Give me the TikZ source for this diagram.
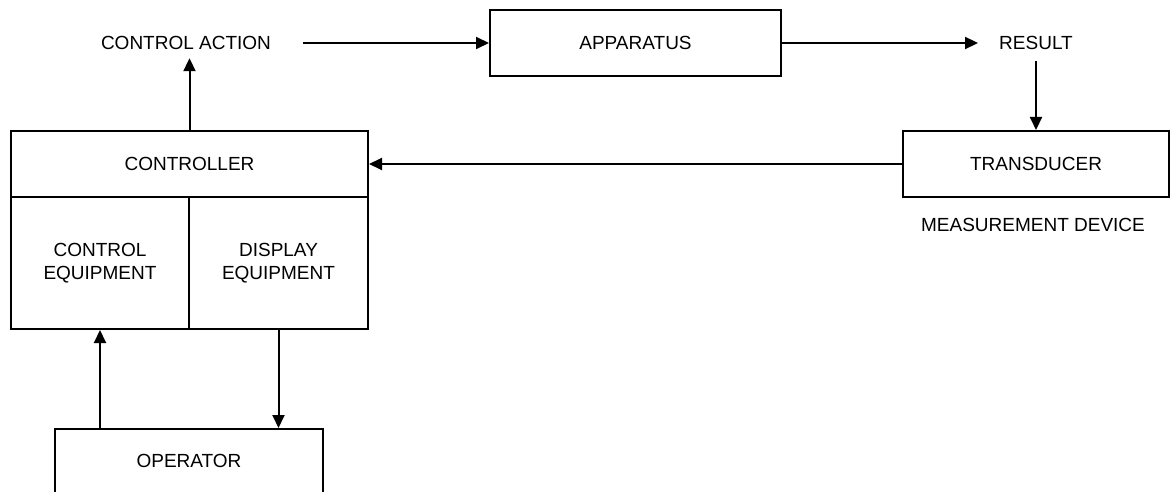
\documentclass[tikz,border=0pt]{standalone}
\usepackage{fontspec}
\setmainfont{Liberation Sans}
\usetikzlibrary{arrows.meta}
\begin{document}
\begin{tikzpicture}[x=1pt,y=-1pt,
  every node/.style={font=\fontsize{19}{23}\selectfont},
  box/.style={draw,line width=2pt,rectangle,inner sep=0pt,align=center},
  lbl/.style={inner sep=0pt,text height=14pt,text depth=0pt,align=center},
  arr/.style={line width=2pt,-{Triangle[length=13pt,width=12pt]}}]
\clip (0,0) rectangle (1170,492);
\fill[white] (0,0) rectangle (1170,492);
% nodes
\node[lbl] (ca) at (186,43) {CONTROL ACTION};
\node[box,minimum width=291pt,minimum height=66pt] (app) at (635.5,43) {APPARATUS};
\node[lbl] (res) at (1036,43) {RESULT};
\node[box,minimum width=266pt,minimum height=66pt] (trans) at (1036,164) {TRANSDUCER};
\node[lbl] (meas) at (1033,224) {MEASUREMENT DEVICE};
\node[box,minimum width=357pt,minimum height=66pt] (ctrl) at (189.5,164) {CONTROLLER};
\node[box,minimum width=178pt,minimum height=132pt] (ceq) at (100,263) {CONTROL\\EQUIPMENT};
\node[box,minimum width=179pt,minimum height=132pt] (deq) at (278.5,263) {DISPLAY\\EQUIPMENT};
\node[box,minimum width=268pt,minimum height=80pt,text height=14pt,text depth=18pt] (op) at (189,469) {OPERATOR};
% connectors
\draw[arr] ([xshift=32pt]ca.east) -- (app.west);
\draw[arr] (app.east) -- ([xshift=-21pt]res.west);
\draw[arr] ([yshift=-11pt]res.south) -- (trans.north);
\draw[arr] (trans.west) -- (ctrl.east);
\draw[arr] (ctrl.north) -- ([yshift=-8pt]ctrl.north |- ca.south);
\draw[arr] (ceq.south |- op.north) -- (ceq.south);
\draw[arr] (deq.south) -- (deq.south |- op.north);
\end{tikzpicture}
\end{document}
